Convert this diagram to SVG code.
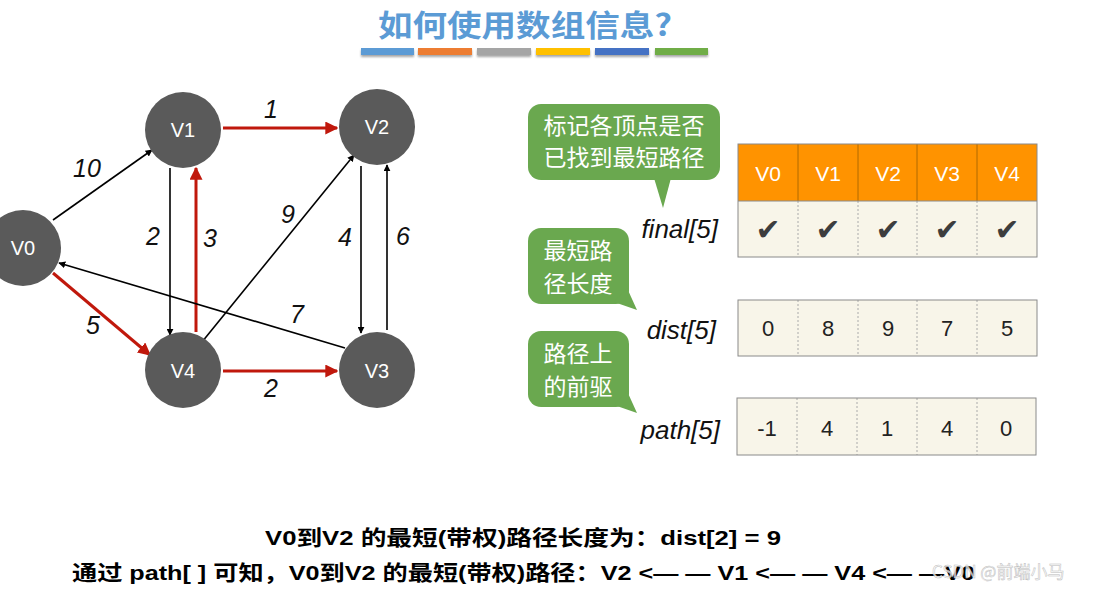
<svg xmlns="http://www.w3.org/2000/svg" width="1094" height="589" viewBox="0 0 1094 589">
<defs>
<style>
.node circle{fill:#5a5a5a}
.node text{fill:#fff;font-family:"Liberation Sans",Arial,sans-serif;font-size:20px;text-anchor:middle;dominant-baseline:central}
.e{fill:none;stroke:#000;stroke-width:1.6}
.r{fill:none;stroke:#c0180c;stroke-width:3}
.wl{font-family:"Liberation Sans",Arial,sans-serif;font-style:italic;font-size:25px;fill:#111;text-anchor:middle}
.bub{fill:#6aa84f}
.bt{font-family:"Noto Sans CJK SC",sans-serif;font-size:23px;fill:#fff;text-anchor:middle}
.lab{font-family:"Liberation Sans",Arial,sans-serif;font-style:italic;font-size:26px;fill:#111;text-anchor:end}
.hd{fill:#ff9300}
.cell{fill:#f8f5e9}
.bd{fill:none;stroke:#8a8a8a;stroke-width:1}
.dv{stroke:#aaa;stroke-width:1;stroke-dasharray:2 2}
.ht{font-family:"Liberation Sans",Arial,sans-serif;font-size:21px;fill:#fff;text-anchor:middle}
.ct{font-family:"Liberation Sans",Arial,sans-serif;font-size:22px;fill:#222;text-anchor:middle}
.ck{font-family:"DejaVu Sans",sans-serif;font-size:30px;fill:#3d3d3d;text-anchor:middle}
.bot{font-family:"Liberation Sans","Noto Sans CJK SC",sans-serif;font-weight:bold;font-size:21px;fill:#000}
</style>
<marker id="ab" viewBox="0 0 10 10" refX="9" refY="5" markerWidth="7" markerHeight="7" orient="auto" markerUnits="userSpaceOnUse"><path d="M0,0 L10,5 L0,10 z" fill="#000"/></marker>
<marker id="ar" viewBox="0 0 10 10" refX="9" refY="5" markerWidth="13" markerHeight="13" orient="auto" markerUnits="userSpaceOnUse"><path d="M0,0 L10,5 L0,10 z" fill="#c0180c"/></marker>
<filter id="sh" x="-5%" y="-50%" width="110%" height="250%"><feDropShadow dx="0" dy="2" stdDeviation="1.2" flood-color="#000" flood-opacity="0.35"/></filter>
</defs>
<rect width="1094" height="589" fill="#fff"/>
<text x="525" y="36" font-family="Noto Sans CJK SC,sans-serif" font-weight="bold" font-size="30" fill="#5b9bd5" text-anchor="middle" textLength="294" lengthAdjust="spacingAndGlyphs">如何使用数组信息?</text>
<g id="bars" filter="url(#sh)">
<rect x="361" y="48" width="53" height="7" fill="#5b9bd5"/>
<rect x="418" y="48" width="54" height="7" fill="#ed7d31"/>
<rect x="477" y="48" width="54" height="7" fill="#a5a5a5"/>
<rect x="536" y="48" width="54" height="7" fill="#ffc000"/>
<rect x="595" y="48" width="54" height="7" fill="#4472c4"/>
<rect x="655" y="48" width="53" height="7" fill="#70ad47"/>
</g>
<g id="connectors">
<line class="e" x1="53" y1="220" x2="152" y2="150" marker-end="url(#ab)"/>
<line class="r" x1="223" y1="128" x2="337" y2="128" marker-end="url(#ar)"/>
<line class="e" x1="170" y1="168" x2="170" y2="335" marker-end="url(#ab)"/>
<line class="r" x1="196" y1="332" x2="196" y2="168" marker-end="url(#ar)"/>
<line class="e" x1="202" y1="342" x2="354" y2="155" marker-end="url(#ab)"/>
<line class="e" x1="361" y1="166" x2="361" y2="333" marker-end="url(#ab)"/>
<line class="e" x1="387" y1="330" x2="387" y2="165" marker-end="url(#ab)"/>
<line class="e" x1="345" y1="348" x2="59" y2="263" marker-end="url(#ab)"/>
<line class="r" x1="53" y1="273" x2="150" y2="355" marker-end="url(#ar)"/>
<line class="r" x1="223" y1="371" x2="337" y2="371" marker-end="url(#ar)"/>
<text class="wl" x="87" y="177">10</text>
<text class="wl" x="271" y="118">1</text>
<text class="wl" x="153" y="245">2</text>
<text class="wl" x="210" y="247">3</text>
<text class="wl" x="288" y="223">9</text>
<text class="wl" x="345" y="246">4</text>
<text class="wl" x="403" y="245">6</text>
<text class="wl" x="297" y="323">7</text>
<text class="wl" x="93" y="334">5</text>
<text class="wl" x="271" y="397">2</text>
</g>
<g id="V0" class="node"><circle cx="23" cy="248" r="38"/><text x="23" y="248">V0</text></g>
<g id="V1" class="node"><circle cx="183" cy="130" r="38"/><text x="183" y="130">V1</text></g>
<g id="V2" class="node"><circle cx="377" cy="127" r="38"/><text x="377" y="127">V2</text></g>
<g id="V3" class="node"><circle cx="377" cy="370" r="38"/><text x="377" y="371">V3</text></g>
<g id="V4" class="node"><circle cx="183" cy="370" r="38"/><text x="183" y="371">V4</text></g>
<g id="bubble1">
<rect class="bub" x="528" y="104" width="192" height="76" rx="13"/>
<path class="bub" d="M654,178 L671,178 L663,208 z"/>
<text class="bt" x="624" y="134">标记各顶点是否</text>
<text class="bt" x="624" y="166">已找到最短路径</text>
</g>
<g id="bubble2">
<rect class="bub" x="528" y="228" width="101" height="76" rx="13"/>
<path class="bub" d="M614,302 L627,288 L637,310 z"/>
<text class="bt" x="578" y="259">最短路</text>
<text class="bt" x="578" y="292">径长度</text>
</g>
<g id="bubble3">
<rect class="bub" x="528" y="331" width="101" height="76" rx="13"/>
<path class="bub" d="M614,405 L627,391 L637,413 z"/>
<text class="bt" x="578" y="362">路径上</text>
<text class="bt" x="578" y="395">的前驱</text>
</g>
<text class="lab" x="718" y="238">final[5]</text>
<text class="lab" x="716" y="339">dist[5]</text>
<text class="lab" x="720" y="439">path[5]</text>
<g id="final">
<rect class="hd" x="738" y="144" width="299" height="57"/>
<rect class="cell" x="738" y="201" width="299" height="56"/>
<line x1="798" y1="144" x2="798" y2="201" stroke="#b06a00" stroke-width="1"/>
<line x1="858" y1="144" x2="858" y2="201" stroke="#b06a00" stroke-width="1"/>
<line x1="917" y1="144" x2="917" y2="201" stroke="#b06a00" stroke-width="1"/>
<line x1="977" y1="144" x2="977" y2="201" stroke="#b06a00" stroke-width="1"/>
<line class="dv" x1="798" y1="201" x2="798" y2="257"/>
<line class="dv" x1="858" y1="201" x2="858" y2="257"/>
<line class="dv" x1="917" y1="201" x2="917" y2="257"/>
<line class="dv" x1="977" y1="201" x2="977" y2="257"/>
<rect class="bd" x="738" y="144" width="299" height="113"/>
<line x1="738" y1="201" x2="1037" y2="201" stroke="#8a8a8a"/>
<text class="ht" x="768" y="181">V0</text>
<text class="ht" x="828" y="181">V1</text>
<text class="ht" x="888" y="181">V2</text>
<text class="ht" x="947" y="181">V3</text>
<text class="ht" x="1007" y="181">V4</text>
<text class="ck" x="768" y="240">✔</text>
<text class="ck" x="828" y="240">✔</text>
<text class="ck" x="888" y="240">✔</text>
<text class="ck" x="947" y="240">✔</text>
<text class="ck" x="1007" y="240">✔</text>
</g>
<g id="dist">
<rect class="cell" x="738" y="300" width="299" height="56"/>
<line class="dv" x1="798" y1="300" x2="798" y2="356"/>
<line class="dv" x1="858" y1="300" x2="858" y2="356"/>
<line class="dv" x1="917" y1="300" x2="917" y2="356"/>
<line class="dv" x1="977" y1="300" x2="977" y2="356"/>
<rect class="bd" x="738" y="300" width="299" height="56"/>
<text class="ct" x="768" y="336">0</text>
<text class="ct" x="828" y="336">8</text>
<text class="ct" x="888" y="336">9</text>
<text class="ct" x="947" y="336">7</text>
<text class="ct" x="1007" y="336">5</text>
</g>
<g id="path">
<rect class="cell" x="737" y="398" width="299" height="57"/>
<line class="dv" x1="797" y1="398" x2="797" y2="455"/>
<line class="dv" x1="857" y1="398" x2="857" y2="455"/>
<line class="dv" x1="917" y1="398" x2="917" y2="455"/>
<line class="dv" x1="977" y1="398" x2="977" y2="455"/>
<rect class="bd" x="737" y="398" width="299" height="57"/>
<text class="ct" x="767" y="436">-1</text>
<text class="ct" x="827" y="436">4</text>
<text class="ct" x="887" y="436">1</text>
<text class="ct" x="947" y="436">4</text>
<text class="ct" x="1006" y="436">0</text>
</g>
<text class="bot" x="265" y="545" textLength="516" lengthAdjust="spacingAndGlyphs">V0到V2 的最短(带权)路径长度为：dist[2] = 9</text>
<text class="bot" x="72" y="580" textLength="903" lengthAdjust="spacingAndGlyphs">通过 path[ ] 可知，V0到V2 的最短(带权)路径：V2 &lt;— — V1 &lt;— — V4 &lt;— —V0</text>
<text x="932" y="578" font-family="Noto Sans CJK SC,sans-serif" font-size="17" fill="#fff" fill-opacity="0.75" stroke="#bbb" stroke-width="0.5">CSDN @前端小马</text>
</svg>
